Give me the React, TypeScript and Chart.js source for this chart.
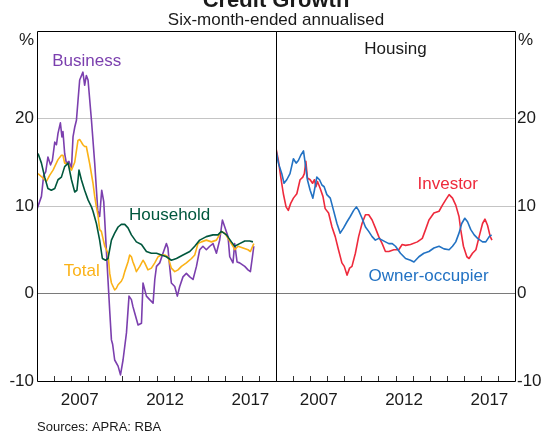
import React, { useEffect, useRef } from 'react';
import { Chart, registerables } from 'chart.js';

Chart.register(...registerables);

const FONT = '"Liberation Sans", Arial, Helvetica, sans-serif';
const TEXT = '#1a1a1a';

// ---- axes ----
const xMin = 2005;
const xMax = 2019;
const yearTicks = [2006, 2007, 2008, 2009, 2010, 2011, 2012, 2013, 2014, 2015, 2016, 2017, 2018];
const labelYears = [2007, 2012, 2017];
const yTickValues = [-10, 0, 10, 20, 30];

// ---- left panel series (per cent) ----
const businessDates = [2005.01, 2005.26, 2005.39, 2005.51, 2005.64, 2005.79, 2005.90, 2006.04, 2006.14, 2006.23, 2006.37, 2006.46, 2006.52, 2006.62, 2006.72, 2006.87, 2007.02, 2007.11, 2007.21, 2007.31, 2007.40, 2007.50, 2007.69, 2007.79, 2007.89, 2007.99, 2008.19, 2008.38, 2008.56, 2008.67, 2008.79, 2008.91, 2009.02, 2009.16, 2009.26, 2009.36, 2009.43, 2009.55, 2009.75, 2009.89, 2010.04, 2010.24, 2010.39, 2010.53, 2010.62, 2010.72, 2010.92, 2011.12, 2011.21, 2011.41, 2011.60, 2011.80, 2011.90, 2012.00, 2012.19, 2012.38, 2012.58, 2012.67, 2012.77, 2012.87, 2013.07, 2013.22, 2013.36, 2013.55, 2013.75, 2013.95, 2014.14, 2014.34, 2014.53, 2014.72, 2014.92, 2015.12, 2015.31, 2015.51, 2015.70, 2015.86, 2016.00, 2016.19, 2016.29, 2016.48, 2016.58, 2016.72, 2016.87, 2017.17, 2017.36, 2017.50, 2017.62, 2017.70];
const businessValues = [9.7, 11.1, 13.5, 13.9, 15.6, 14.7, 15.2, 17.3, 17.0, 18.3, 19.5, 17.9, 18.5, 16.0, 14.9, 15.1, 14.3, 17.9, 19.0, 19.8, 22.0, 24.4, 25.3, 23.8, 24.9, 24.4, 19.8, 14.9, 9.5, 8.8, 11.8, 10.5, 6.5, 1.5, -2.0, -5.3, -5.8, -7.6, -8.3, -9.3, -7.6, -4.5, -0.3, -0.7, -1.5, -2.2, -3.6, -3.4, 1.2, -0.3, -0.7, -1.1, 1.6, 3.1, 3.5, 4.6, 5.7, 5.2, 3.1, 1.2, 0.8, -0.3, 0.8, 1.9, 2.3, 1.9, 1.6, 3.1, 5.0, 5.4, 5.0, 5.4, 5.7, 4.6, 6.1, 8.4, 7.6, 6.5, 4.2, 3.5, 5.7, 3.6, 3.5, 3.1, 2.7, 2.5, 4.2, 5.4];

const totalDates = [2005.06, 2005.35, 2005.45, 2005.55, 2005.74, 2005.94, 2006.23, 2006.43, 2006.52, 2006.62, 2006.82, 2007.02, 2007.21, 2007.40, 2007.50, 2007.60, 2007.69, 2007.79, 2007.89, 2008.09, 2008.28, 2008.38, 2008.48, 2008.57, 2008.67, 2008.77, 2008.97, 2009.16, 2009.26, 2009.36, 2009.55, 2009.65, 2009.75, 2009.94, 2010.04, 2010.14, 2010.33, 2010.43, 2010.53, 2010.62, 2010.72, 2010.82, 2011.02, 2011.21, 2011.31, 2011.50, 2011.70, 2011.90, 2012.09, 2012.29, 2012.48, 2012.67, 2012.87, 2013.07, 2013.26, 2013.46, 2013.75, 2014.05, 2014.24, 2014.43, 2014.63, 2014.92, 2015.22, 2015.51, 2015.80, 2016.00, 2016.19, 2016.48, 2016.58, 2016.78, 2017.07, 2017.36, 2017.50, 2017.70];
const totalValues = [13.7, 13.2, 13.0, 12.8, 13.5, 14.1, 15.3, 15.8, 15.8, 14.9, 14.8, 14.1, 15.0, 17.5, 17.6, 17.3, 17.0, 16.8, 16.8, 14.8, 12.6, 11.1, 9.9, 9.0, 7.3, 7.1, 5.4, 4.6, 2.3, 1.2, 0.4, 0.6, 1.0, 1.4, 1.8, 2.5, 3.6, 4.4, 4.2, 3.6, 3.1, 2.5, 3.1, 3.8, 3.5, 2.7, 2.9, 3.5, 4.2, 4.4, 4.4, 4.2, 2.9, 2.5, 2.7, 3.1, 3.5, 4.0, 4.4, 5.7, 5.9, 6.1, 5.9, 6.1, 7.1, 6.9, 6.3, 5.4, 5.0, 5.4, 5.2, 5.0, 4.8, 5.7];

const householdDates = [2005.06, 2005.26, 2005.45, 2005.64, 2005.84, 2006.04, 2006.23, 2006.43, 2006.62, 2006.82, 2007.02, 2007.21, 2007.34, 2007.46, 2007.60, 2007.79, 2007.99, 2008.19, 2008.28, 2008.48, 2008.67, 2008.83, 2009.02, 2009.16, 2009.36, 2009.55, 2009.75, 2009.94, 2010.14, 2010.33, 2010.53, 2010.82, 2011.12, 2011.41, 2011.70, 2012.00, 2012.29, 2012.58, 2012.87, 2013.17, 2013.55, 2013.95, 2014.24, 2014.53, 2014.92, 2015.31, 2015.60, 2015.80, 2016.10, 2016.39, 2016.58, 2016.87, 2017.17, 2017.46, 2017.65];
const householdValues = [16.0, 14.9, 13.3, 12.0, 11.8, 12.0, 13.0, 13.3, 14.5, 14.9, 13.0, 11.6, 11.8, 14.1, 13.0, 11.8, 10.7, 9.9, 9.4, 8.0, 6.1, 4.0, 3.8, 4.0, 6.1, 6.9, 7.6, 7.9, 7.9, 7.5, 6.7, 5.9, 5.6, 4.8, 4.6, 4.6, 4.4, 4.2, 3.8, 4.0, 4.4, 4.8, 5.4, 6.1, 6.5, 6.7, 6.7, 7.1, 6.7, 5.9, 5.4, 5.7, 6.0, 6.0, 5.9];

// ---- right panel series: housing (per cent) ----
const ownerDates = [2005.00, 2005.14, 2005.34, 2005.47, 2005.63, 2005.82, 2006.02, 2006.18, 2006.31, 2006.45, 2006.61, 2006.71, 2006.84, 2007.00, 2007.16, 2007.25, 2007.39, 2007.55, 2007.69, 2007.82, 2007.98, 2008.18, 2008.37, 2008.57, 2008.76, 2008.96, 2009.16, 2009.35, 2009.55, 2009.71, 2009.84, 2010.04, 2010.24, 2010.43, 2010.63, 2010.82, 2011.02, 2011.22, 2011.41, 2011.61, 2011.81, 2012.00, 2012.29, 2012.59, 2012.88, 2013.08, 2013.37, 2013.66, 2013.96, 2014.25, 2014.55, 2014.84, 2015.14, 2015.34, 2015.53, 2015.72, 2015.88, 2016.06, 2016.22, 2016.41, 2016.61, 2016.81, 2017.10, 2017.29, 2017.49, 2017.63];
const ownerValues = [16.4, 14.9, 13.7, 12.6, 13.0, 13.7, 15.4, 14.9, 15.2, 15.8, 16.3, 14.9, 13.0, 11.8, 10.9, 11.8, 13.3, 13.0, 12.4, 12.2, 11.3, 10.9, 9.5, 8.0, 6.9, 7.5, 8.2, 8.8, 9.5, 9.9, 9.5, 8.6, 7.6, 7.1, 6.5, 6.1, 6.3, 6.1, 5.9, 5.7, 5.7, 5.4, 4.6, 4.0, 3.8, 3.6, 4.2, 4.6, 4.8, 5.2, 5.4, 5.1, 5.0, 5.4, 5.9, 6.9, 8.0, 8.6, 8.2, 7.3, 6.7, 6.3, 5.9, 5.9, 6.5, 6.7];

const investorDates = [2005.00, 2005.14, 2005.28, 2005.43, 2005.59, 2005.72, 2005.86, 2006.02, 2006.22, 2006.41, 2006.57, 2006.66, 2006.75, 2006.84, 2007.00, 2007.14, 2007.25, 2007.34, 2007.43, 2007.59, 2007.75, 2007.88, 2008.08, 2008.28, 2008.47, 2008.66, 2008.86, 2009.00, 2009.16, 2009.31, 2009.45, 2009.65, 2009.84, 2010.04, 2010.24, 2010.43, 2010.63, 2010.82, 2011.02, 2011.22, 2011.41, 2011.61, 2011.90, 2012.19, 2012.39, 2012.59, 2012.88, 2013.28, 2013.57, 2013.76, 2013.96, 2014.25, 2014.55, 2014.75, 2014.94, 2015.14, 2015.34, 2015.53, 2015.72, 2015.82, 2015.98, 2016.18, 2016.31, 2016.51, 2016.71, 2016.90, 2017.10, 2017.24, 2017.39, 2017.55, 2017.65];
const investorValues = [16.6, 15.2, 13.3, 11.4, 9.9, 9.5, 10.3, 10.9, 11.4, 13.0, 13.3, 13.7, 15.1, 13.2, 13.0, 12.6, 13.0, 12.2, 12.8, 12.0, 11.1, 9.7, 9.2, 7.6, 6.5, 5.0, 3.5, 3.1, 2.1, 2.9, 3.1, 4.6, 6.5, 8.0, 9.0, 9.0, 8.4, 7.5, 6.5, 5.7, 4.8, 4.8, 5.0, 5.0, 5.6, 5.5, 5.6, 5.9, 6.3, 7.3, 8.4, 9.2, 9.4, 10.1, 10.7, 11.3, 10.9, 10.1, 8.8, 7.3, 5.4, 4.2, 4.0, 4.6, 5.0, 6.5, 8.0, 8.5, 7.8, 6.5, 6.1];

// ---- colours ----
const PURPLE = '#7b3fae';
const GREEN = '#00573d';
const ORANGE = '#fbb217';
const RED = '#ee2a3c';
const BLUE = '#2272c3';

type Lbl = { text: string; x: number; y: number; color: string };

const leftLabels: Lbl[] = [
  { text: 'Business', x: 2007.91, y: 26.5, color: PURPLE },
  { text: 'Household', x: 2012.77, y: 8.9, color: GREEN },
  { text: 'Total', x: 2007.62, y: 2.5, color: ORANGE },
];
const rightLabels: Lbl[] = [
  { text: 'Housing', x: 2012.0, y: 27.9, color: TEXT },
  { text: 'Investor', x: 2015.06, y: 12.5, color: RED },
  { text: 'Owner-occupier', x: 2013.94, y: 2.0, color: BLUE },
];

function pts(xs: number[], ys: number[]) {
  return xs.map((x, i) => ({ x, y: ys[i] }));
}

function ds(label: string, xs: number[], ys: number[], color: string) {
  return {
    label,
    data: pts(xs, ys),
    borderColor: color,
    backgroundColor: color,
    borderWidth: 1.6,
    pointRadius: 0,
    tension: 0,
    borderJoinStyle: 'round' as const,
    fill: false,
  };
}

const panelPlugin = {
  id: 'panel',
  afterDatasetsDraw(chart: any, _args: any, opts: any) {
    const { ctx, chartArea: a, scales } = chart;
    const xs = scales.x;
    const ys = scales.y;
    ctx.save();
    // year tick marks inside the plot
    ctx.strokeStyle = '#333';
    ctx.lineWidth = 1;
    ctx.beginPath();
    for (const yr of yearTicks) {
      const px = Math.round(xs.getPixelForValue(yr)) + 0.5;
      ctx.moveTo(px, a.bottom);
      ctx.lineTo(px, a.bottom - 5);
    }
    ctx.stroke();
    // frame
    ctx.strokeStyle = '#000';
    ctx.beginPath();
    ctx.rect(Math.round(a.left) + 0.5, Math.round(a.top) + 0.5, Math.round(a.right - a.left), Math.round(a.bottom - a.top));
    ctx.stroke();
    // series labels
    ctx.font = `17px ${FONT}`;
    ctx.textAlign = 'center';
    ctx.textBaseline = 'middle';
    for (const l of opts.labels as Lbl[]) {
      ctx.fillStyle = l.color;
      ctx.fillText(l.text, xs.getPixelForValue(l.x), ys.getPixelForValue(l.y));
    }
    // % unit
    ctx.fillStyle = TEXT;
    if (opts.side === 'left') {
      ctx.textAlign = 'right';
      ctx.fillText('%', a.left - 3, a.top + 9);
    } else {
      ctx.textAlign = 'left';
      ctx.fillText('%', a.right + 3, a.top + 9);
    }
    // headings
    if (opts.side === 'left') {
      const cx = a.right;
      ctx.textAlign = 'center';
      ctx.textBaseline = 'alphabetic';
      ctx.font = `bold 22px ${FONT}`;
      ctx.fillText('Credit Growth', cx, 7);
      ctx.font = `17px ${FONT}`;
      ctx.fillText('Six-month-ended annualised', cx, 25);
      ctx.textAlign = 'left';
      ctx.font = `13px ${FONT}`;
      ctx.fillText('Sources: APRA: RBA', a.left, 431);
    }
    ctx.restore();
  },
};

function makeConfig(side: 'left' | 'right', datasets: any[], labels: Lbl[]): any {
  return {
    type: 'line',
    data: { datasets },
    plugins: [panelPlugin],
    options: {
      animation: false,
      responsive: false,
      devicePixelRatio: 1,
      events: [],
      layout: {
        padding: side === 'left'
          ? { left: 0, top: 31, right: 265, bottom: 21 }
          : { left: 276, top: 31, right: 0, bottom: 21 },
      },
      plugins: {
        legend: { display: false },
        tooltip: { enabled: false },
        title: { display: false },
        panel: { side, labels },
      },
      scales: {
        x: {
          type: 'linear',
          min: xMin,
          max: xMax,
          afterBuildTicks: (s: any) => {
            s.ticks = labelYears.map((v) => ({ value: v + 0.5 }));
          },
          afterFit: (s: any) => {
            s.height = 30;
          },
          grid: { display: false, drawTicks: false },
          border: { display: false },
          ticks: {
            autoSkip: false,
            maxRotation: 0,
            padding: 9,
            color: TEXT,
            font: { family: FONT, size: 17 },
            callback: (v: number) => String(Math.floor(v)),
          },
        },
        y: {
          type: 'linear',
          position: side,
          min: -10,
          max: 30,
          afterBuildTicks: (s: any) => {
            s.ticks = yTickValues.map((v) => ({ value: v }));
          },
          afterFit: (s: any) => {
            s.width = side === 'left' ? 37 : 26;
          },
          border: { display: false },
          grid: {
            drawTicks: false,
            lineWidth: 1,
            color: (c: any) => {
              const v = c.tick ? c.tick.value : null;
              if (v === 0) return '#7a7a7a';
              if (v === 10 || v === 20) return '#c4c4c4';
              return 'rgba(0,0,0,0)';
            },
          },
          ticks: {
            padding: side === 'left' ? 3 : 2,
            color: TEXT,
            font: { family: FONT, size: 17 },
            callback: (v: number) => (v === 30 ? '' : String(v)),
          },
        },
      },
    },
  };
}

export default function App() {
  const leftRef = useRef<HTMLCanvasElement | null>(null);
  const rightRef = useRef<HTMLCanvasElement | null>(null);

  useEffect(() => {
    if (!leftRef.current || !rightRef.current) return;
    const left = new Chart(
      leftRef.current,
      makeConfig(
        'left',
        [
          ds('Household', householdDates, householdValues, GREEN),
          ds('Total', totalDates, totalValues, ORANGE),
          ds('Business', businessDates, businessValues, PURPLE),
        ],
        leftLabels
      )
    );
    const right = new Chart(
      rightRef.current,
      makeConfig(
        'right',
        [
          ds('Owner-occupier', ownerDates, ownerValues, BLUE),
          ds('Investor', investorDates, investorValues, RED),
        ],
        rightLabels
      )
    );
    return () => {
      left.destroy();
      right.destroy();
    };
  }, []);

  const cs: React.CSSProperties = { position: 'absolute', left: 0, top: 0, width: 541, height: 432 };
  return (
    <div style={{ position: 'absolute', left: 0, top: 0, width: 541, height: 432, background: '#fff', overflow: 'hidden' }}>
      <canvas ref={leftRef} width={541} height={432} style={cs} />
      <canvas ref={rightRef} width={541} height={432} style={cs} />
    </div>
  );
}
